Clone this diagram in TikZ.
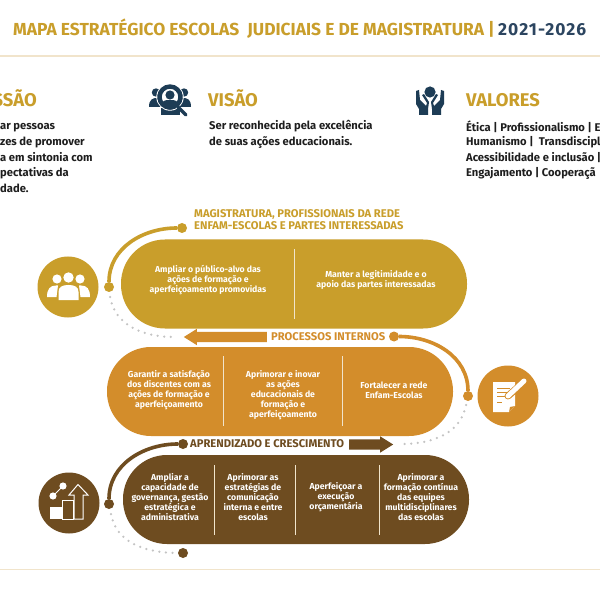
\documentclass[tikz,border=0pt]{standalone}
\usepackage{fontspec}
\setmainfont{Fira Sans}
\usetikzlibrary{arrows.meta,positioning,shapes.arrows}
\definecolor{gold}{HTML}{C99E2B}
\definecolor{amber}{HTML}{D38D2B}
\definecolor{umber}{HTML}{6E4C20}
\definecolor{navy}{HTML}{1D3C55}
\definecolor{titlenavy}{HTML}{2C4560}
\definecolor{ink}{HTML}{1E1E1E}
\definecolor{sand}{HTML}{F1E4CB}
\definecolor{pebble}{HTML}{C4C4C4}
\tikzset{
  heading/.style={anchor=base west, inner sep=0pt, text=gold, font=\fontsize{18.4}{20}\selectfont\bfseries},
  bodytext/.style={anchor=west, inner sep=0pt, text=ink, font=\fontsize{11.2}{15.6}\selectfont\bfseries, align=left},
  pill/.style={rectangle, rounded corners=44pt, minimum height=89pt, inner sep=0pt},
  celltext/.style={inner sep=0pt, text=white, align=center, font=\fontsize{8.7}{10}\selectfont\bfseries},
  persp/.style={inner sep=0pt, font=\fontsize{11.2}{12}\selectfont\bfseries, anchor=west},
  badge/.style={circle, minimum size=61pt, inner sep=0pt},
  knob/.style={circle, minimum size=10pt, inner sep=0pt},
  curveline/.style={line width=3.6pt},
  trail/.style={draw=pebble, line width=2.5pt, line cap=round, dash pattern=on 0pt off 6.6pt},
  divider/.style={line width=1pt, draw=sand},
  blockarrow/.style={single arrow, single arrow head extend=3pt, single arrow tip angle=64,
                     minimum width=16pt, inner sep=5pt}
}
\begin{document}
\begin{tikzpicture}[x=1pt,y=-1pt]
  \useasboundingbox (0,0) rectangle (600,596);
  \fill[white] (0,0) rectangle (600,596);

  % title
  \node[anchor=base west, inner sep=0pt, text=gold, font=\fontsize{17.4}{18}\selectfont\bfseries] (title) at (13,36) {MAPA ESTRATÉGICO ESCOLAS\ \ JUDICIAIS E DE MAGISTRATURA |};
  \node[anchor=base west, inner sep=0pt, text=titlenavy, font=\fontsize{17.4}{18}\selectfont\bfseries\addfontfeatures{LetterSpace=6}] (period) at (498,36) {2021-2026};
  \draw[sand, line width=1.3pt] (0,56) -- (600,56);
  \draw[sand, line width=1pt] (0,569) -- (600,569);

  % top columns
  \node[heading, anchor=base east] (missao) at (37,106.5) {SSÃO};
  \node[bodytext, anchor=west] (m1) at (0,127.5) {ar pessoas};
  \node[bodytext] (m2) at (0,142.5) {zes de promover};
  \node[bodytext] (m3) at (0,157.5) {a em sintonia com};
  \node[bodytext] (m4) at (0,173) {pectativas da};
  \node[bodytext] (m5) at (0,188) {dade.};

  \node[heading] (visao) at (208,106.5) {VISÃO};
  \node[bodytext] (visaotxt) at (209,134.5) {Ser reconhecida pela excelência\\de suas ações educacionais.};

  \node[heading] (valores) at (466,106.5) {VALORES};
  \node[bodytext] (v1) at (466,127) {Ética | Profissionalismo | E};
  \node[bodytext] (v2) at (466,142.5) {Humanismo |\ \ Transdiscipl};
  \node[bodytext] (v3) at (466,158) {Acessibilidade e inclusão |};
  \node[bodytext] (v4) at (466,173.5) {Engajamento | Cooperaçã};

  % search icon
  \fill[navy] (156,92.5) circle (4.2) (184,92.5) circle (4.2);
  \fill[navy] (149,107) .. controls (149,99) and (153,98) .. (157,98) -- (183,98) .. controls (187,98) and (191,99) .. (191,107) -- cycle;
  \fill[navy] (161,108) rectangle (180,115);
  \draw[white, line width=1pt] (170,97) circle (13.2);
  \draw[navy, line width=4.4pt, fill=white] (170,97) circle (10.5);
  \fill[navy] (170,95) circle (4.6);
  \fill[navy] (162,105) .. controls (162,100) and (166,100) .. (170,100) .. controls (174,100) and (178,100) .. (178,105) -- (174,107) -- (166,107) -- cycle;
  \draw[navy, line width=3.4pt, line cap=round] (178,107) -- (186,115);

  % hands icon
  \fill[navy] (430,92) circle (5.6);
  \fill[navy] (416,91) -- (419,90) -- (420,100) -- (426,106) -- (427,103) -- (422,95) -- (424,94) -- (429,102) -- (428,109) -- (428,115) -- (419,115) -- (419,109) -- (416,104) -- cycle;
  \fill[navy] (444,91) -- (441,90) -- (440,100) -- (434,106) -- (433,103) -- (438,95) -- (436,94) -- (431,102) -- (432,109) -- (432,115) -- (441,115) -- (441,109) -- (444,104) -- cycle;

  % pills
  \node[pill, fill=gold, minimum width=346pt] (pillgold) at (294,284) {};
  \node[pill, fill=amber, minimum width=346pt] (pillamber) at (280,391.5) {};
  \node[pill, fill=umber, minimum width=346pt] (pillumber) at (296,499.5) {};

  \draw[divider] (294,249) -- (294,319);
  \foreach \x in {223,342} \draw[divider] (\x,356) -- (\x,426);
  \foreach \x in {214,295,379} \draw[divider] (\x,465) -- (\x,535);

  \node[celltext] (g1) at (208,280) {Ampliar o público-alvo das\\ações de formação e\\aperfeiçoamento promovidas};
  \node[celltext] (g2) at (376,280) {Manter a legitimidade e o\\apoio das partes interessadas};
  \node[celltext] (a1) at (169,390) {Garantir a satisfação\\dos discentes com as\\ações de formação e\\aperfeiçoamento};
  \node[celltext] (a2) at (283,395) {Aprimorar e inovar\\as ações\\educacionais de\\formação e\\aperfeiçoamento};
  \node[celltext] (a3) at (394,390) {Fortalecer a rede\\Enfam-Escolas};
  \node[celltext] (u1) at (170,497) {Ampliar a\\capacidade de\\governança, gestão\\estratégica e\\administrativa};
  \node[celltext] (u2) at (253,497) {Aprimorar as\\estratégias de\\comunicação\\interna e entre\\escolas};
  \node[celltext] (u3) at (336,497) {Aperfeiçoar a\\execução\\orçamentária};
  \node[celltext] (u4) at (421,497) {Aprimorar a\\formação contínua\\das equipes\\multidisciplinares\\das escolas};

  % perspective labels
  \node[persp, text=gold, align=left] (lbgold) at (194,220) {MAGISTRATURA, PROFISSIONAIS DA REDE\\ENFAM-ESCOLAS E PARTES INTERESSADAS};
  \node[persp, text=amber] (lbamber) at (271,336.5) {PROCESSOS INTERNOS};
  \node[persp, text=umber] (lbumber) at (190,444) {APRENDIZADO E CRESCIMENTO};

  % knobs, badges, curves
  \node[knob, fill=gold] (gstart) at (182,228) {};
  \node[knob, fill=gold] (gend) at (109,287) {};
  \node[badge, fill=gold] (gbadge) at (68,287) {};
  \coordinate (gfree) at (174,337);
  \draw[curveline, gold] (gstart) to[out=180,in=90] (gend);
  \draw[trail] (110,297) to[out=-80,in=180] (gfree);

  \node[knob, fill=amber] (astart) at (394,336.5) {};
  \node[knob, fill=amber] (aend) at (468,396) {};
  \node[badge, fill=amber] (abadge) at (508,396) {};
  \coordinate (afree) at (402,444);
  \draw[curveline, amber] (astart) to[out=0,in=90] (aend);
  \draw[trail] (466,405) to[out=-100,in=0] (afree);

  \node[knob, fill=umber] (ustart) at (183,444) {};
  \node[knob, fill=umber] (uend) at (109,504) {};
  \node[knob, fill=umber] (ufin) at (183,553) {};
  \node[badge, fill=umber] (ubadge) at (69,503) {};
  \draw[curveline, umber] (ustart) to[out=180,in=90] (uend);
  \draw[trail] (111,514) to[out=-80,in=180] (ufin);

  % block arrows
  \node[blockarrow, fill=amber, shape border rotate=180, minimum height=83pt] (arrowamber) at (229.5,337) {};
  \node[blockarrow, fill=umber, minimum height=44pt] (arrowumber) at (367,444.5) {};

  % people icon
  \fill[white] (57,279) circle (4.6) (80,279) circle (4.6) (68.5,277.5) circle (5.2);
  \fill[white] (47,297) .. controls (47,289) and (50,285.5) .. (56,285.5) -- (58,285.5) -- (56.5,297) -- cycle;
  \fill[white] (90,297) .. controls (90,289) and (87,285.5) .. (81,285.5) -- (79,285.5) -- (80.5,297) -- cycle;
  \fill[white] (58.5,300) -- (58.5,292) .. controls (58.5,287) and (62,285) .. (68.5,285) .. controls (75,285) and (78.5,287) .. (78.5,292) -- (78.5,300) -- cycle;

  % document icon
  \fill[white] (493,382) -- (515,382) -- (515,406) -- (509,412) -- (493,412) -- cycle;
  \draw[amber, line width=1pt] (497,388) -- (510,388) (497,392) -- (508,392) (497,396) -- (506,396) (497,402) -- (502,402);
  \fill[amber] (509,412) -- (510,407) -- (515,406) -- cycle;
  \draw[amber, line width=7pt, line cap=round] (508,396) -- (524,382);
  \draw[white, line width=5pt, line cap=round] (508,396) -- (524,381);

  % growth icon
  \fill[white] (50,507) rectangle (61.5,519);
  \draw[white, line width=1pt] (62,500) rectangle (73,519);
  \draw[white, line width=1pt] (74,519) -- (74,495) -- (69,495) -- (78,484.5) -- (88,495) -- (83,495) -- (83,519) -- cycle;
  \draw[white, line width=1pt] (53,496) -- (63,486);
  \fill[white] (53,496) circle (3.6) (63,486) circle (3.6);
\end{tikzpicture}
\end{document}
